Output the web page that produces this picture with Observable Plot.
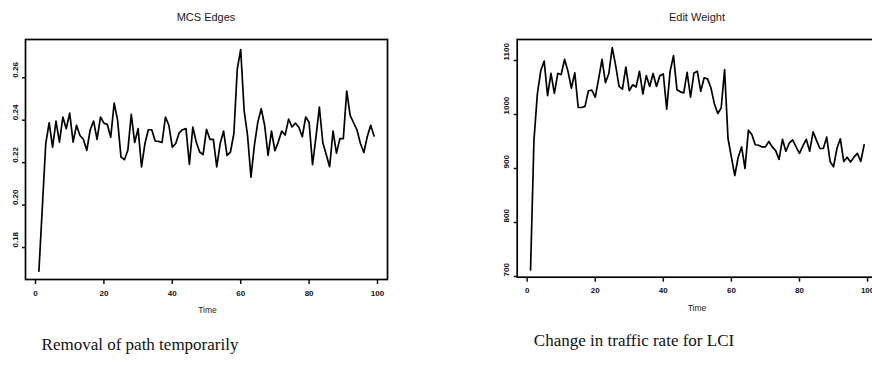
<!DOCTYPE html>
<html>
<head>
<meta charset="utf-8">
<script src="https://cdn.jsdelivr.net/npm/d3@7"></script>
<script src="https://cdn.jsdelivr.net/npm/@observablehq/plot@0.6"></script>
<style>
  html, body { margin: 0; padding: 0; background: #fff; overflow: hidden; }
  #wrap { position: relative; width: 872px; height: 368px; overflow: hidden; background: #fff; }
  .panel { position: absolute; top: 0; }
  .lbl { position: absolute; transform: translate(-50%, -50%); white-space: nowrap; font-family: "Liberation Sans", Arial, sans-serif; color: #1a1a1a; }
  .title { font-size: 11px; }
  .xlab { font-size: 8.5px; }
  .cap { font-family: "Liberation Serif", "DejaVu Serif", serif; font-size: 17px; color: #111; }
</style>
</head>
<body>
<div id="wrap"></div>
<script>
const timeSteps = [1,2,3,4,5,6,7,8,9,10,11,12,13,14,15,16,17,18,19,20,21,22,23,24,25,26,27,28,29,30,31,32,33,34,35,36,37,38,39,40,41,42,43,44,45,46,47,48,49,50,51,52,53,54,55,56,57,58,59,60,61,62,63,64,65,66,67,68,69,70,71,72,73,74,75,76,77,78,79,80,81,82,83,84,85,86,87,88,89,90,91,92,93,94,95,96,97,98,99];

const mcsEdges = [0.1688,0.199,0.229,0.2388,0.2273,0.2396,0.2297,0.2415,0.236,0.2433,
  0.2297,0.2376,0.2328,0.231,0.2258,0.2355,0.2396,0.231,0.2415,0.2386,
  0.238,0.232,0.248,0.240,0.2226,0.2214,0.2258,0.2427,0.2295,0.236,
  0.218,0.229,0.2355,0.2355,0.2302,0.230,0.2295,0.2415,0.2376,0.2273,
  0.229,0.234,0.2355,0.236,0.2192,0.2368,0.2297,0.225,0.2238,0.2357,
  0.231,0.231,0.218,0.229,0.2349,0.2234,0.225,0.2336,0.2642,0.2733,
  0.2446,0.2328,0.2132,0.2281,0.2391,0.2454,0.2376,0.2234,0.2349,0.2256,
  0.2298,0.2349,0.2330,0.2405,0.2368,0.2386,0.2367,0.2322,0.2415,0.239,
  0.219,0.232,0.2462,0.2295,0.2238,0.2181,0.2349,0.2245,0.2313,0.2313,
  0.2537,0.2423,0.2388,0.2354,0.229,0.2248,0.2322,0.2376,0.2326];

const editWeight = [712,952,1038,1081,1099,1035,1076,1039,1076,1074,
  1102,1080,1049,1077,1013,1013,1015,1044,1045,1032,
  1066,1102,1059,1076,1124,1091,1052,1047,1088,1044,
  1055,1051,1080,1038,1072,1052,1076,1052,1072,1075,
  1010,1080,1109,1046,1042,1040,1078,1032,1077,1080,
  1043,1068,1066,1049,1020,1002,1012,1083,956,921,
  887,921,940,900,971,963,944,943,940,940,
  950,940,933,917,954,932,947,953,940,928,
  942,954,932,968,952,937,937,958,913,903,
  937,955,913,921,912,921,928,913,944];

const mcsYTicks = [0.18, 0.20, 0.22, 0.24, 0.26];
const weightYTicks = [700, 800, 900, 1000, 1100];
const timeTicks = [0, 20, 40, 60, 80, 100];
const titles = ["MCS Edges", "Edit Weight"];
const xLabel = "Time";
const captions = ["Removal of path temporarily", "Change in traffic rate for LCI"];

const wrap = document.getElementById("wrap");

function panel({values, yTicks, yFmt, yDomain, left, width, height, mLeft, mRight, mTop, mBottom, yLabDx, xLabDy}) {
  const data = timeSteps.map((t, i) => ({t, v: values[i]}));
  const chart = Plot.plot({
    width, height,
    marginLeft: mLeft, marginRight: mRight, marginTop: mTop, marginBottom: mBottom,
    x: {domain: [-2.92, 102.92], label: null},
    y: {domain: yDomain, label: null},
    style: {fontFamily: "Liberation Sans, Arial, sans-serif", fontSize: "8px", color: "#111", background: "transparent", overflow: "visible"},
    marks: [
      Plot.axisX({ticks: timeTicks, tickSize: 4, tickFormat: () => "", label: null, strokeWidth: 1.5, dy: 1}),
      Plot.axisY({ticks: yTicks, tickSize: 3, tickFormat: () => "", label: null, strokeWidth: 1.5}),
      Plot.text(timeTicks, {x: d => d, text: d => String(d), frameAnchor: "bottom", dy: xLabDy, fontWeight: "bold", fontSize: 8, fill: "#111"}),
      Plot.text(yTicks, {y: d => d, text: yFmt, frameAnchor: "left", dx: yLabDx, rotate: -90, fontWeight: "bold", fontSize: 8, fill: "#111"}),
      Plot.line(data, {x: "t", y: "v", stroke: "#000", strokeWidth: 1.7, strokeLinejoin: "round"}),
      Plot.frame({stroke: "#000", strokeWidth: 1.7})
    ]
  });
  const div = document.createElement("div");
  div.className = "panel";
  div.style.left = left + "px";
  div.style.width = width + "px";
  div.appendChild(chart);
  wrap.appendChild(div);
}

panel({values: mcsEdges, yTicks: mcsYTicks, yFmt: d => d.toFixed(2), yDomain: [0.16494, 0.27802],
  left: 0, width: 436, height: 320, mLeft: 25, mRight: 49, mTop: 39, mBottom: 41, yLabDx: -10, xLabDy: 16});
panel({values: editWeight, yTicks: weightYTicks, yFmt: d => String(d), yDomain: [698.7, 1138.9],
  left: 436, width: 450, height: 320, mLeft: 80.7, mRight: 9, mTop: 39, mBottom: 43.3, yLabDx: -11, xLabDy: 16});

function label(text, cls, x, y) {
  const el = document.createElement("div");
  el.className = "lbl " + cls;
  el.textContent = text;
  el.style.left = x + "px";
  el.style.top = y + "px";
  wrap.appendChild(el);
}
label(titles[0], "title", 206, 17);
label(titles[1], "title", 697, 17);
label(xLabel, "xlab", 207.5, 310);
label(xLabel, "xlab", 697, 308);
label(captions[0], "cap", 140, 345);
label(captions[1], "cap", 634, 341);
</script>
</body>
</html>
